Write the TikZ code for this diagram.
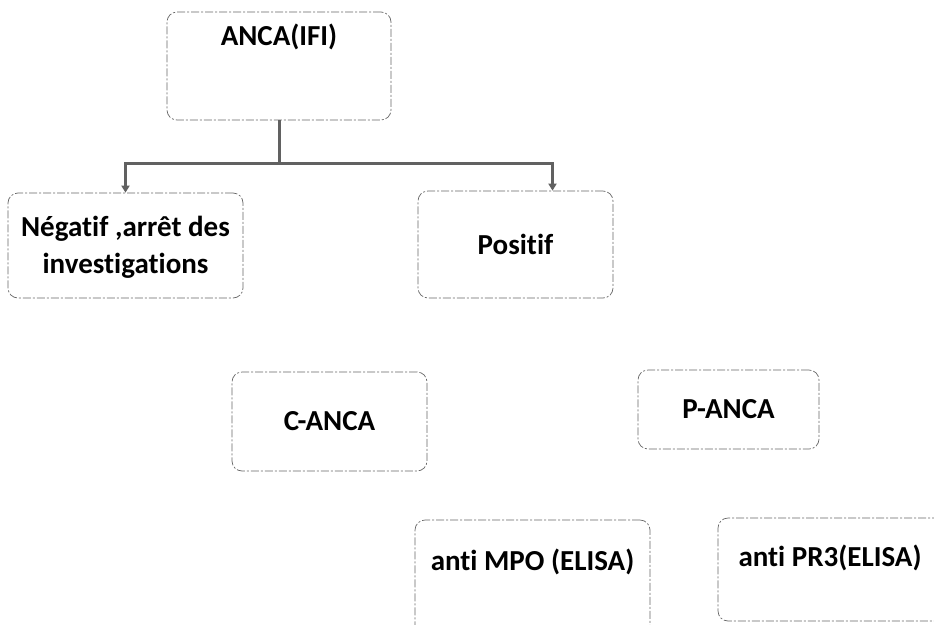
\documentclass[tikz,border=0pt]{standalone}
\usepackage{fontspec}
\setmainfont[Ligatures=NoCommon]{Carlito}
\usetikzlibrary{arrows.meta}
\begin{document}
\begin{tikzpicture}[x=1pt,y=-1pt,
  box/.style={draw=black!60, line width=0.7pt,
    dash pattern=on 8pt off 2pt on 2pt off 2pt,
    rounded corners=10pt, fill=white, inner sep=0pt},
  lbl/.style={font=\bfseries\fontsize{29}{37}\selectfont, align=center, inner sep=0pt},
  link/.style={draw=black!62, line width=3pt},
  tip/.style={-{Triangle[length=7pt,width=8pt]}}]
\useasboundingbox (0,0) rectangle (934,624);

% frames
\node[box, minimum width=224pt, minimum height=108pt] (anca)  at (279,66)    {};
\node[box, minimum width=235pt, minimum height=105pt] (neg)   at (125.5,245.5) {};
\node[box, minimum width=195pt, minimum height=107pt] (pos)   at (515.5,244.5) {};
\node[box, minimum width=195pt, minimum height=99pt]  (canca) at (329.5,421.5) {};
\node[box, minimum width=181pt, minimum height=79pt]  (panca) at (728.5,409.5) {};
\node[box, minimum width=235pt, minimum height=120pt] (mpo)   at (532.5,580)   {};
\node[box, minimum width=232pt, minimum height=103pt] (pr3)   at (834,569.5)   {};

% labels
\node[lbl, anchor=base] (ancaT) at (279,45) {ANCA(IFI)};
\node[lbl] (negT) at (125.5,247) {Négatif ,arrêt des\\investigations};
\node[lbl] (posT) at (pos) {Positif};
\node[lbl] (cancaT) at (canca) {C-ANCA};
\node[lbl] (pancaT) at (panca) {P-ANCA};
\node[lbl, anchor=base] (mpoT) at (532.5,570) {anti MPO (ELISA)};
\node[lbl, anchor=base] (pr3T) at (830,566) {anti PR3(ELISA)};

% branching connector
\coordinate (j) at (anca.south |- 0,163);
\draw[link] (anca.south) -- (j);
\draw[link, tip] (j) -| (neg.north);
\draw[link, tip] (j) -| ([xshift=37pt]pos.north);
\end{tikzpicture}
\end{document}
